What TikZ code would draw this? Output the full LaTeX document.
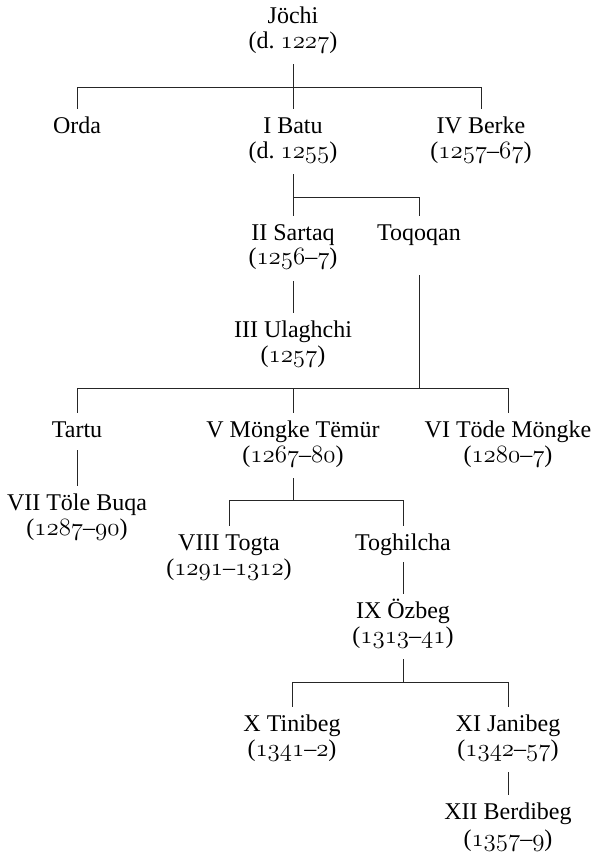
\documentclass[tikz,border=0pt]{standalone}
\usepackage{fontspec}
\setmainfont{Liberation Serif}
\newcommand\yr[1]{{\fontsize{26}{28}\usefont{OML}{cmm}{m}{it}#1}}
\tikzset{
  pers/.style={anchor=base, inner xsep=1pt, inner ysep=0pt, text height=16pt, text depth=6pt,
    font=\fontsize{24}{26}\selectfont},
  conn/.style={draw=black!85, line width=0.8pt}
}
\begin{document}
\begin{tikzpicture}[x=1pt,y=-1pt]
\useasboundingbox (0,0) rectangle (594,857);
% people
\node[pers] (jochi) at (293,23) {Jöchi};
\node[pers] (jochid) at (293,48) {(d.\ \yr{1227})};
\node[pers] (orda) at (77,133) {Orda};
\node[pers] (batu) at (293,133) {I Batu};
\node[pers] (batud) at (293,158) {(d.\ \yr{1255})};
\node[pers] (berke) at (481,133) {IV Berke};
\node[pers] (berked) at (481,158) {(\yr{1257}--\yr{67})};
\node[pers] (sartaq) at (293,240) {II Sartaq};
\node[pers] (sartaqd) at (293,264) {(\yr{1256}--\yr{7})};
\node[pers] (toqoqan) at (419,240) {Toqoqan};
\node[pers] (ulaghchi) at (293,337) {III Ulaghchi};
\node[pers] (ulaghchid) at (293,362) {(\yr{1257})};
\node[pers] (tartu) at (77,437) {Tartu};
\node[pers] (mongke) at (293,437) {V Möngke Tëmür};
\node[pers] (mongked) at (293,462) {(\yr{1267}--\yr{80})};
\node[pers] (tode) at (508,437) {VI Töde Möngke};
\node[pers] (toded) at (508,462) {(\yr{1280}--\yr{7})};
\node[pers] (tole) at (77,510) {VII Töle Buqa};
\node[pers] (toled) at (77,535) {(\yr{1287}--\yr{90})};
\node[pers] (togta) at (229,550) {VIII Togta};
\node[pers] (togtad) at (229,575) {(\yr{1291}--\yr{1312})};
\node[pers] (toghilcha) at (403,550) {Toghilcha};
\node[pers] (ozbeg) at (403,618) {IX Özbeg};
\node[pers] (ozbegd) at (403,643) {(\yr{1313}--\yr{41})};
\node[pers] (tinibeg) at (292,731) {X Tinibeg};
\node[pers] (tinibegd) at (292,756) {(\yr{1341}--\yr{2})};
\node[pers] (janibeg) at (508,731) {XI Janibeg};
\node[pers] (janibegd) at (508,756) {(\yr{1342}--\yr{57})};
\node[pers] (berdibeg) at (508,819) {XII Berdibeg};
\node[pers] (berdibegd) at (508,846) {(\yr{1357}--\yr{9})};
% junctions
\coordinate (j1) at (293,87);
\coordinate (j2) at (293,197);
\coordinate (j3) at (419,388);
\coordinate (j4) at (293,500);
\coordinate (j5) at (403,682);
% Jochi
\draw[conn] (jochid.south) ++(0,10) -- (j1);
\draw[conn] ([yshift=8pt]orda.north) -- (orda |- j1) -- (berke |- j1) -- ([yshift=8pt]berke.north);
\draw[conn] (j1) -- ([yshift=8pt]batu.north);
% Batu
\draw[conn] (batud.south) ++(0,10) -- (j2) -- (toqoqan |- j2) -- ([yshift=8pt]toqoqan.north);
\draw[conn] (j2) -- ([yshift=8pt]sartaq.north);
% Sartaq - Ulaghchi
\draw[conn] (sartaqd.south) ++(0,11) -- ([yshift=8pt]ulaghchi.north);
% Toqoqan
\draw[conn] (toqoqan.south) ++(0,29) -- (j3);
\draw[conn] ([yshift=8pt]tartu.north) -- (tartu |- j3) -- (tode |- j3) -- ([yshift=8pt]tode.north);
\draw[conn] (mongke |- j3) -- ([yshift=8pt]mongke.north);
% Tartu - Tole Buqa
\draw[conn] (tartu.south) ++(0,7) -- ([yshift=8pt]tole.north);
% Mongke Temur
\draw[conn] (mongked.south) ++(0,10) -- (j4);
\draw[conn] ([yshift=8pt]togta.north) -- (togta |- j4) -- (toghilcha |- j4) -- ([yshift=8pt]toghilcha.north);
% Toghilcha - Ozbeg
\draw[conn] (toghilcha.south) ++(0,6) -- ([yshift=8pt]ozbeg.north);
% Ozbeg
\draw[conn] (ozbegd.south) ++(0,10) -- (j5);
\draw[conn] ([yshift=8pt]tinibeg.north) -- (tinibeg |- j5) -- (janibeg |- j5) -- ([yshift=8pt]janibeg.north);
% Janibeg - Berdibeg
\draw[conn] (janibegd.south) ++(0,10) -- ([yshift=8pt]berdibeg.north);
\end{tikzpicture}
\end{document}
